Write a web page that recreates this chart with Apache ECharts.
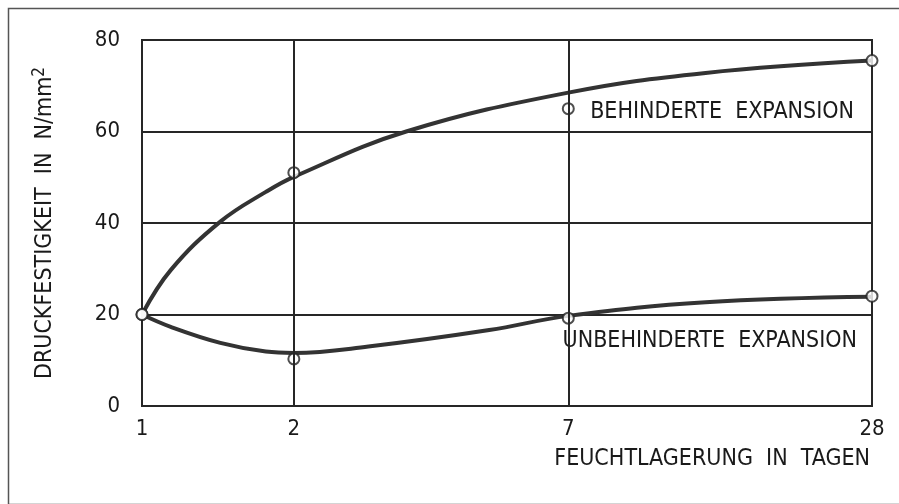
<!DOCTYPE html>
<html>
<head>
<meta charset="utf-8">
<script src="https://cdn.jsdelivr.net/npm/echarts@6/dist/echarts.min.js"></script>
<style>
  html, body { margin: 0; padding: 0; background: #fff; }
  #chart { width: 899px; height: 504px; }
</style>
</head>
<body>
<div id="chart"></div>
<script>
// Messpunkte
var days = [1, 2, 7, 28];
var behindert = [20, 51, 65, 75.5];
var unbehindert = [20, 10.3, 19.2, 24];

// ausgeglichene Kurven
var curveDaysB = [1, 1.14, 1.43, 1.76, 2, 3.34, 7, 13.1, 28];
var curveB = [20, 29.7, 40.3, 46.8, 50.1, 60, 68.5, 72.8, 75.5];
var curveDaysU = [1, 1.14, 1.43, 1.76, 2, 2.81, 4.88, 7, 13.1, 28];
var curveU = [20, 17.3, 13.8, 11.9, 11.6, 13, 16.6, 19.7, 22.7, 23.9];

var xTicks = [1, 2, 7, 28];
var yTicks = [0, 20, 40, 60, 80];

var FONT = "'Liberation Sans Narrow', 'DejaVu Sans Condensed', sans-serif";
var INK = '#262626';

function pairs(xs, ys) {
  return xs.map(function (x, i) { return [x, ys[i]]; });
}

var chart = echarts.init(document.getElementById('chart'));

var option = {
  backgroundColor: '#fff',
  animation: false,
  grid: {
    left: 142, right: 27, top: 40, bottom: 98,
    show: true, borderColor: INK, borderWidth: 2
  },
  xAxis: {
    type: 'log',
    logBase: 10,
    min: 1,
    max: 28,
    axisLine: { show: true, lineStyle: { color: INK, width: 2 } },
    axisTick: { show: false },
    splitLine: { show: false },
    minorTick: { show: false },
    axisLabel: {
      customValues: xTicks,
      margin: 12,
      color: '#1a1a1a',
      fontFamily: FONT,
      fontSize: 22,
      formatter: function (v) { return String(Math.round(v)); }
    },
    name: 'FEUCHTLAGERUNG  IN  TAGEN',
    nameLocation: 'end',
    nameGap: -2,
    nameTextStyle: {
      align: 'right', verticalAlign: 'top',
      padding: [42, 0, 0, 0],
      color: '#1a1a1a', fontFamily: FONT, fontSize: 23
    }
  },
  yAxis: {
    type: 'value',
    min: 0,
    max: 80,
    interval: 20,
    axisLine: { show: true, lineStyle: { color: INK, width: 2 } },
    axisTick: { show: false },
    splitLine: { show: true, lineStyle: { color: INK, width: 2 } },
    axisLabel: {
      margin: 22,
      color: '#1a1a1a',
      fontFamily: FONT,
      fontSize: 22
    },
    name: 'DRUCKFESTIGKEIT  IN  N/mm{sup|2}',
    nameLocation: 'middle',
    nameGap: 82,
    nameTextStyle: {
      color: '#1a1a1a', fontFamily: FONT, fontSize: 23,
      rich: {
        sup: { fontFamily: FONT, fontSize: 17, color: '#1a1a1a', padding: [0, 0, 12, 0] }
      }
    }
  },
  series: [
    {
      name: 'Gitter',
      type: 'line',
      data: [],
      markLine: {
        silent: true,
        symbol: 'none',
        label: { show: false },
        lineStyle: { color: INK, width: 2, type: 'solid' },
        data: [{ xAxis: 2 }, { xAxis: 7 }]
      }
    },
    {
      name: 'Behinderte Expansion Kurve',
      type: 'line',
      data: pairs(curveDaysB, curveB),
      smooth: 0.4,
      showSymbol: false,
      lineStyle: { color: '#333', width: 4 },
      z: 3
    },
    {
      name: 'Unbehinderte Expansion Kurve',
      type: 'line',
      data: pairs(curveDaysU, curveU),
      smooth: 0.4,
      showSymbol: false,
      lineStyle: { color: '#333', width: 4 },
      z: 3
    },
    {
      name: 'Behinderte Expansion',
      type: 'scatter',
      data: pairs(days, behindert),
      symbol: 'circle',
      symbolSize: 11,
      itemStyle: { color: '#fff', borderColor: '#222', borderWidth: 2 },
      z: 4
    },
    {
      name: 'Unbehinderte Expansion',
      type: 'scatter',
      data: pairs(days, unbehindert),
      symbol: 'circle',
      symbolSize: 11,
      itemStyle: { color: '#fff', borderColor: '#222', borderWidth: 2 },
      z: 4
    }
  ],
  graphic: [
    {
      type: 'rect',
      left: 6, top: 6,
      shape: { width: 900, height: 496 },
      style: { fill: 'none', stroke: '#555', lineWidth: 1.5 },
      silent: true, z: -10
    },
    {
      type: 'text',
      right: 45, top: 101,
      style: { text: 'BEHINDERTE  EXPANSION', fill: '#1a1a1a', font: '23px ' + FONT }
    },
    {
      type: 'text',
      right: 42, top: 330,
      style: { text: 'UNBEHINDERTE  EXPANSION', fill: '#1a1a1a', font: '23px ' + FONT }
    }
  ]
};

chart.setOption(option);
</script>
</body>
</html>
